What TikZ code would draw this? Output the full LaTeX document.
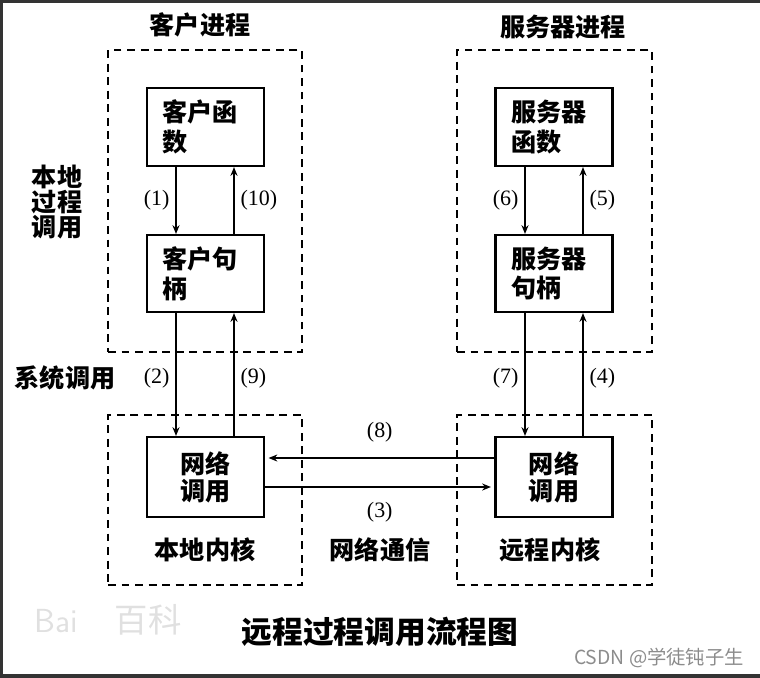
\documentclass[tikz,border=0pt]{standalone}
\usepackage{fontspec}
\setmainfont{Liberation Serif}
\newfontfamily\cjk{Noto Sans CJK SC}
\usetikzlibrary{arrows.meta}

\begin{document}
\begin{tikzpicture}[x=0.02cm, y=-0.02cm, >={Stealth[length=5pt,width=4pt]},
        box/.style={draw, line width=1.2pt, minimum width=2.34cm, minimum height=1.56cm, inner sep=0pt},
        lbox/.style={box, text width=1.72cm, align=left, font=\cjk\bfseries\fontsize{14.3}{17}\selectfont},
        cbox/.style={box, align=center, font=\cjk\bfseries\fontsize{14.3}{15.5}\selectfont},
        area/.style={draw, line width=1.1pt, dash pattern=on 4.5pt off 3.2pt, inner sep=0pt},
        tag/.style={font=\cjk\bfseries\fontsize{14.3}{12.5}\selectfont, align=center},
        num/.style={font=\fontsize{12.5}{14}\selectfont},
        arr/.style={->, line width=0.9pt},
    ]
    \useasboundingbox (0,0) rectangle (760,677);
    % Frame
    \draw[line width=1.8pt, black!80] (760,1) -- (1,1) -- (1,676) -- (760,676);

    % Process and kernel areas
    \node[area, minimum width=3.88cm, minimum height=6.04cm] (cproc) at (205,201) {};
    \node[area, minimum width=3.9cm, minimum height=6.04cm] (sproc) at (554.5,201) {};
    \node[area, minimum width=3.88cm, minimum height=3.4cm] (ckern) at (205,500) {};
    \node[area, minimum width=3.9cm, minimum height=3.4cm] (skern) at (554.5,500) {};

    % Client side
    \node[lbox] (cfun) at (205.5,127) {客户函\\数};
    \node[lbox, minimum height=1.54cm] (cstub) at (205.5,273.5) {客户句\\柄};
    \node[cbox, minimum height=1.6cm] (cnet) at (205.5,477) {网络\\调用};

    % Server side
    \node[lbox] (sfun) at (554,127) {服务器\\函数};
    \node[lbox, minimum height=1.54cm] (sstub) at (554,273.5) {服务器\\句柄};
    \node[cbox, minimum height=1.6cm] (snet) at (554,477) {网络\\调用};

    % Titles
    \node[tag] (ctitle) at (200,25) {客户进程};
    \node[tag] (stitle) at (563,27) {服务器进程};
    \node[tag] (local) at (57,202) {本地\\过程\\调用};
    \node[tag] (syscall) at (65,378) {系统调用};
    \node[tag] (ckname) at (205,550) {本地内核};
    \node[tag] (netcom) at (380,550) {网络通信};
    \node[tag] (skname) at (550,550) {远程内核};
    \node[font=\cjk\bfseries\fontsize{17.5}{20}\selectfont] (caption) at (380,632) {远程过程调用流程图};

    % Watermarks
    \node[font=\sffamily\fontsize{19}{20}\selectfont, text=black!12] (baidu) at (108,620) {Bai\hspace{1.1em}{\cjk 百科}};
    \node[font=\cjk\fontsize{11}{13}\selectfont, text=black!45] (csdn) at (659,658) {CSDN @学徒钝子生};

    % Client arrows
    \draw[arr] ([xshift=-0.59cm]cfun.south) -- ([xshift=-0.59cm]cstub.north) node[midway, left, num] {(1)};
    \draw[arr] ([xshift=0.57cm]cstub.north) -- ([xshift=0.57cm]cfun.south) node[midway, right, num] {(10)};
    \draw[arr] ([xshift=-0.59cm]cstub.south) -- ([xshift=-0.59cm]cnet.north) node[pos=0.53, left, num] {(2)};
    \draw[arr] ([xshift=0.57cm]cnet.north) -- ([xshift=0.57cm]cstub.south) node[pos=0.47, right, num] {(9)};

    % Server arrows
    \draw[arr] ([xshift=-0.58cm]sfun.south) -- ([xshift=-0.58cm]sstub.north) node[midway, left, num] {(6)};
    \draw[arr] ([xshift=0.58cm]sstub.north) -- ([xshift=0.58cm]sfun.south) node[midway, right, num] {(5)};
    \draw[arr] ([xshift=-0.58cm]sstub.south) -- ([xshift=-0.58cm]snet.north) node[pos=0.53, left, num] {(7)};
    \draw[arr] ([xshift=0.58cm]snet.north) -- ([xshift=0.58cm]sstub.south) node[pos=0.47, right, num] {(4)};

    % Network arrows
    \draw[arr, shorten >=2pt] ([yshift=0.38cm]snet.west) -- ([yshift=0.38cm]cnet.east) node[midway, above=5pt, num] {(8)};
    \draw[arr, shorten >=2pt] ([yshift=-0.2cm]cnet.east) -- ([yshift=-0.2cm]snet.west) node[midway, below=5pt, num] {(3)};

    \end{tikzpicture}
\end{document}
